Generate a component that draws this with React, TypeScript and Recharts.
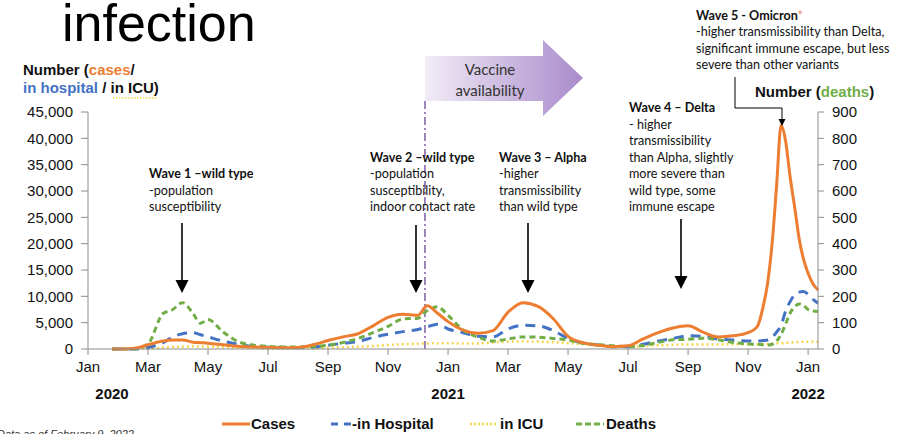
import React from "react";
import { LineChart, Line, XAxis, YAxis, ReferenceLine } from "recharts";

// ─── Data (month index: 0 = Jan 2020) ─────────────────────────────────────────

const months = [
  0.8, 1, 1.5, 2, 2.5, 2.8, 3.15, 3.5, 3.75, 4, 4.5, 5, 5.5, 6, 6.5, 7, 7.5, 8, 8.5, 9,
  9.5, 10, 10.5, 11, 11.3, 11.65, 12, 12.5, 13, 13.5, 14, 14.5, 15, 15.5, 16, 16.5, 17,
  17.5, 18, 18.5, 19, 19.5, 20, 20.5, 21, 21.5, 22, 22.3, 22.5, 22.65, 22.8, 22.95, 23.1,
  23.25, 23.4, 23.55, 23.7, 23.85, 24, 24.15, 24.33,
];

const cases = [
  0, 0, 100, 800, 1500, 1700, 1700, 1300, 1200, 1100, 800, 500, 380, 300, 250, 300, 800, 1600, 2300, 2900,
  4400, 6000, 6600, 6400, 8200, 6800, 5200, 3600, 3000, 3500, 7000, 8800, 8100, 5800, 2400, 1200, 700,
  450, 600, 1900, 3100, 4000, 4400, 3200, 2300, 2500, 3100, 4200, 8000, 12500, 20000, 31000, 42500,
  39500, 32700, 27000, 21000, 17000, 14400, 12500, 11200,
];

const hospital = [
  0, 0, 0, 300, 1200, 2200, 2900, 3100, 2700, 2300, 1500, 900, 500, 350, 300, 250, 350, 700, 1100, 1400,
  2200, 2800, 3300, 3700, 4200, 4700, 3800, 3100, 2400, 2300, 3800, 4500, 4400, 3500, 2000, 1100, 750,
  450, 450, 900, 1500, 2000, 2500, 2400, 1900, 1700, 1500, 1500, 1600, 1700, 2200, 3200, 4500,
  7200, 9000, 10300, 10800, 10900, 10400, 9500, 8700,
];

const icu = [
  0, 0, 0, 50, 300, 400, 450, 500, 480, 450, 350, 250, 150, 100, 100, 100, 150, 250, 350, 450,
  550, 750, 900, 1000, 1050, 1100, 1100, 1050, 1050, 1250, 1400, 1450, 1400, 1300, 1100, 900, 650,
  450, 400, 550, 700, 800, 850, 850, 850, 900, 900, 900, 950, 950, 1000, 1050, 1100,
  1150, 1200, 1300, 1350, 1400, 1400, 1400, 1400,
];

const deaths = [
  0, 0, 0, 20, 135, 148, 176, 135, 98, 112, 65, 28, 15, 10, 8, 8, 9, 14, 25, 40,
  62, 86, 114, 117, 145, 160, 128, 72, 45, 30, 38, 46, 45, 40, 34, 22, 17,
  12, 9, 13, 25, 35, 37, 41, 35, 25, 19, 18, 16, 15, 18, 30, 55,
  95, 136, 160, 171, 165, 150, 145, 142,
];

const monthTicks = [0, 2, 4, 6, 8, 10, 12, 14, 16, 18, 20, 22, 24];
const monthLabels = ["Jan", "Mar", "May", "Jul", "Sep", "Nov", "Jan", "Mar", "May", "Jul", "Sep", "Nov", "Jan"];
const yearLabels = ["2020", "2021", "2022"];
const caseTicks = [0, 5000, 10000, 15000, 20000, 25000, 30000, 35000, 40000, 45000];
const deathTicks = [0, 100, 200, 300, 400, 500, 600, 700, 800, 900];
const vaccineStart = 11.23;

const rows = months.map((m, i) => ({
  m,
  cases: cases[i],
  hospital: hospital[i],
  icu: icu[i],
  deaths: deaths[i],
}));

// ─── Styles ───────────────────────────────────────────────────────────────────

const ORANGE = "#ED7D31";
const BLUE = "#4472C4";
const YELLOW = "#F7D54E";
const GREEN = "#70AD47";
const AXIS = "#8C8C8C";
const SANS = "'Liberation Sans', Arial, sans-serif";
const NARROW = "'Liberation Sans Narrow', 'Arial Narrow', 'Liberation Sans', sans-serif";
const NOTE = "Lato, 'Open Sans', sans-serif";

const tickStyle = { fill: "#111", fontSize: 15, fontFamily: SANS };

function MonthTick({ x, y, payload }: any) {
  const i = monthTicks.indexOf(payload.value);
  const year = i % 6 === 0 ? yearLabels[i / 6] : null;
  return (
    <g>
      <text x={x} y={y} dy={15} textAnchor="middle" fontSize={15} fontFamily={NARROW} fill="#111">
        {monthLabels[i]}
      </text>
      {year && (
        <text
          x={i === 0 ? x + 24 : x}
          y={y}
          dy={42}
          textAnchor="middle"
          fontSize={15}
          fontWeight={700}
          fontFamily={NARROW}
          fill="#111"
        >
          {year}
        </text>
      )}
    </g>
  );
}

// ─── Annotations ──────────────────────────────────────────────────────────────

function Note({ x, y, title, lines, star }: { x: number; y: number; title: string; lines: string[]; star?: boolean }) {
  return (
    <text x={x} y={y} fontSize={12.6} fontFamily={NOTE} fill="#111">
      <tspan fontWeight={700}>{title}</tspan>
      {star && <tspan fill="#F2A08A" fontWeight={700}>*</tspan>}
      {lines.map((l, i) => (
        <tspan key={i} x={x} dy={16.5}>{l}</tspan>
      ))}
    </text>
  );
}

function DownArrow({ x, y1, y2 }: { x: number; y1: number; y2: number }) {
  return (
    <g>
      <line x1={x} y1={y1} x2={x} y2={y2 - 10} stroke="#000" strokeWidth={1.6} />
      <polygon points={`${x - 6.5},${y2 - 13} ${x + 6.5},${y2 - 13} ${x},${y2}`} fill="#000" />
    </g>
  );
}

function Overlay() {
  return (
    <svg
      width={903}
      height={434}
      style={{ position: "absolute", left: 0, top: 0, overflow: "hidden", pointerEvents: "none" }}
    >
      <defs>
        <linearGradient id="vax" x1="0" x2="1" y1="0" y2="0">
          <stop offset="0%" stopColor="#F1ECF6" />
          <stop offset="100%" stopColor="#A98BCB" />
        </linearGradient>
      </defs>

      {/* slide title remnant */}
      <text x={62} y={41} fontSize={52} fontFamily={SANS} fill="#000">infection</text>

      {/* left axis title */}
      <text x={23} y={75} fontSize={15} fontWeight={700} fontFamily={SANS} fill="#111">
        Number (<tspan fill={ORANGE}>cases</tspan>/
      </text>
      <text x={23} y={93} fontSize={15} fontWeight={700} fontFamily={SANS} fill="#111">
        <tspan fill={BLUE}>in hospital</tspan> / in ICU)
      </text>
      <line x1={113} x2={158} y1={98} y2={98} stroke={YELLOW} strokeWidth={1.5} strokeDasharray="1.5 1.5" />

      {/* right axis title */}
      <text x={755} y={97} fontSize={15} fontWeight={700} fontFamily={SANS} fill="#111">
        Number (<tspan fill={GREEN}>deaths</tspan>)
      </text>

      {/* vaccine arrow */}
      <polygon points="425,56 543,56 543,40 583,78 543,116 543,101 425,101" fill="url(#vax)" />
      <text x={490} y={75} textAnchor="middle" fontSize={15} fontFamily={NOTE} fill="#333">Vaccine</text>
      <text x={490} y={96} textAnchor="middle" fontSize={15} fontFamily={NOTE} fill="#333">availability</text>
      <line x1={425} x2={425} y1={101} y2={112} stroke="#7F5FA8" strokeWidth={1.5} strokeDasharray="8 3 2 3" />

      {/* wave notes */}
      <Note x={149} y={178} title="Wave 1 –wild type" lines={["-population", "susceptibility"]} />
      <DownArrow x={182} y1={223} y2={293} />

      <Note x={370} y={161.5} title="Wave 2 –wild type" lines={["-population", "susceptibility,", "indoor contact rate"]} />
      <DownArrow x={416} y1={225} y2={293} />

      <Note x={499} y={161.5} title="Wave 3 – Alpha" lines={["-higher", "transmissibility", "than wild type"]} />
      <DownArrow x={528} y1={223} y2={293} />

      <Note
        x={629}
        y={112}
        title="Wave 4 – Delta"
        lines={["- higher", "transmissibility", "than Alpha, slightly", "more severe than", "wild type, some", "immune escape"]}
      />
      <DownArrow x={681} y1={219} y2={289} />

      <Note
        x={696}
        y={19.5}
        title="Wave 5 - Omicron"
        star
        lines={["-higher transmissibility than Delta,", "significant immune escape, but less", "severe than other variants"]}
      />
      <polyline points="735,77 735,108 782,108 782,120" fill="none" stroke="#000" strokeWidth={1} />
      <polygon points="778.5,119 785.5,119 782,126" fill="#000" />

      {/* legend */}
      <g fontSize={15} fontWeight={700} fontFamily={NARROW} fill="#111">
        <line x1={222} x2={250} y1={424} y2={424} stroke={ORANGE} strokeWidth={3} />
        <text x={251} y={429}>Cases</text>
        <line x1={331} x2={351} y1={424} y2={424} stroke={BLUE} strokeWidth={3} strokeDasharray="7 6" />
        <text x={352} y={429}>-in Hospital</text>
        <line x1={470} x2={498} y1={424} y2={424} stroke={YELLOW} strokeWidth={2.5} strokeDasharray="2 2" />
        <text x={500} y={429}>in ICU</text>
        <line x1={576} x2={604} y1={424} y2={424} stroke={GREEN} strokeWidth={3} strokeDasharray="6 3" />
        <text x={606} y={429}>Deaths</text>
      </g>

      {/* footnote */}
      <text x={-3} y={438} fontSize={11} fontStyle="italic" fontFamily={SANS} fill="#333">
        Data as of February 9, 2022
      </text>
    </svg>
  );
}

// ─── Main component ───────────────────────────────────────────────────────────

export default function App() {
  return (
    <div style={{ position: "absolute", left: 0, top: 0, width: 903, height: 434, background: "#fff" }}>
      <LineChart width={903} height={434} data={rows} margin={{ top: 112, right: 0, bottom: 55, left: 0 }}>
        <XAxis
          dataKey="m"
          type="number"
          domain={[0, 24.33]}
          ticks={monthTicks}
          tick={<MonthTick />}
          height={30}
          stroke={AXIS}
          tickSize={6}
          interval={0}
        />
        <YAxis
          yAxisId="left"
          domain={[0, 45000]}
          ticks={caseTicks}
          width={88}
          stroke={AXIS}
          tickSize={7}
          tickMargin={8}
          tick={tickStyle}
          tickFormatter={(v: number) => v.toLocaleString("en-US")}
          interval={0}
        />
        <YAxis
          yAxisId="right"
          orientation="right"
          domain={[0, 900]}
          ticks={deathTicks}
          width={85}
          stroke={AXIS}
          tickSize={6}
          tickMargin={8}
          tick={{ ...tickStyle, textAnchor: "start" }}
          interval={0}
        />
        <ReferenceLine
          yAxisId="left"
          x={vaccineStart}
          stroke="#7F5FA8"
          strokeWidth={1.5}
          strokeDasharray="8 3 2 3"
        />
        <Line yAxisId="left" type="monotone" dataKey="icu" stroke={YELLOW} strokeWidth={2.5}
          strokeDasharray="2 3" dot={false} isAnimationActive={false} />
        <Line yAxisId="left" type="monotone" dataKey="hospital" stroke={BLUE} strokeWidth={3}
          strokeDasharray="10 7" dot={false} isAnimationActive={false} />
        <Line yAxisId="right" type="monotone" dataKey="deaths" stroke={GREEN} strokeWidth={3}
          strokeDasharray="6 4" dot={false} isAnimationActive={false} />
        <Line yAxisId="left" type="monotone" dataKey="cases" stroke={ORANGE} strokeWidth={3}
          dot={false} isAnimationActive={false} />
      </LineChart>
      <Overlay />
    </div>
  );
}
